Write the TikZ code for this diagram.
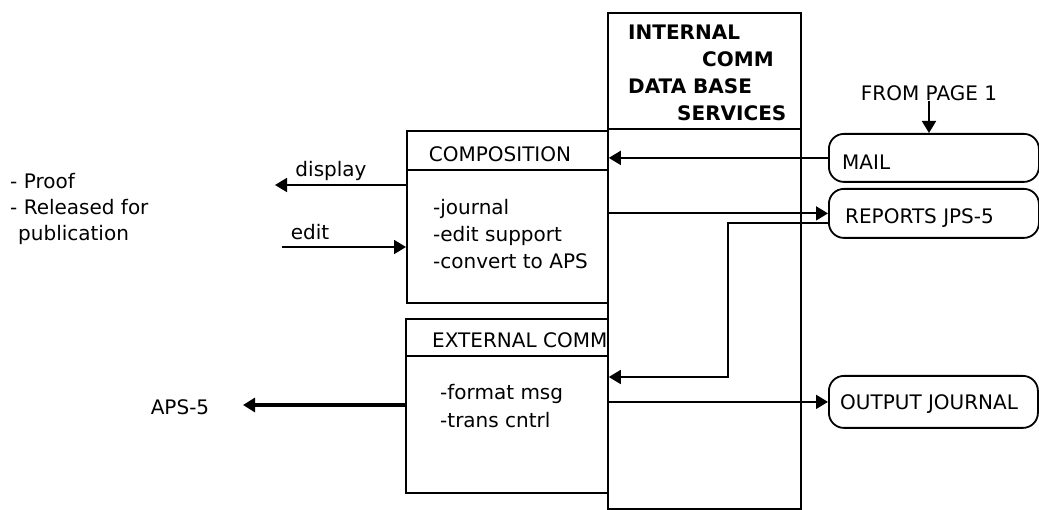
\documentclass[tikz,border=0pt]{standalone}
\usepackage{fontspec}
\setmainfont{DejaVu Sans}
\usetikzlibrary{arrows.meta,calc}
\begin{document}
\begin{tikzpicture}[x=1pt,y=-1pt,
  every node/.style={font=\fontsize{20}{27}\selectfont, inner sep=0pt},
  box/.style={draw, line width=1.8pt, anchor=north west},
  rbox/.style={draw, line width=1.8pt, anchor=north west, rounded corners=15pt},
  conn/.style={line width=1.8pt, -{Triangle[length=12pt,width=14pt]}},
  title/.style={font=\bfseries\fontsize{20}{27}\selectfont, align=left, anchor=west},
  lbl/.style={anchor=west, align=left}]
\useasboundingbox (0,0) rectangle (1039,510);
% boxes
\node[box, minimum width=193pt, minimum height=496pt] (db) at (607,12) {};
\node[box, minimum width=201pt, minimum height=172pt] (comp) at (406,130) {};
\node[box, minimum width=202pt, minimum height=174pt] (ext) at (405,318) {};
\node[rbox, minimum width=210pt, minimum height=48pt] (mail) at (828,133) {};
\node[rbox, minimum width=210pt, minimum height=49pt] (rep) at (828,188) {};
\node[rbox, minimum width=209pt, minimum height=52pt] (out) at (828,375) {};
% header dividers
\draw[line width=1.8pt] ($(db.north west)+(0,117)$) -- ($(db.north east)+(0,117)$);
\draw[line width=1.8pt] ($(comp.north west)+(0,40)$) -- ($(comp.north east)+(0,40)$);
\draw[line width=1.8pt] ($(ext.north west)+(0,38)$) -- ($(ext.north east)+(0,38)$);
% texts
\node[title] (dbt) at (628,72.5) {INTERNAL\\\hspace*{74pt}COMM\\DATA BASE\\\hspace*{49pt}SERVICES};
\node (compt) at (500,154) {COMPOSITION};
\node[lbl] (compl) at (433,234) {-journal\\-edit support\\-convert to APS};
\node[anchor=west] (extt) at (432,340) {EXTERNAL COMM};
\node[lbl, font=\fontsize{20}{28}\selectfont] (extl) at (440,406) {-format msg\\-trans cntrl};
\node[anchor=west] (mailt) at (842,162) {MAIL};
\node[anchor=west] (rept) at (845,218) {REPORTS JPS-5};
\node[anchor=west] (outt) at (840,404) {OUTPUT JOURNAL};
\node (from) at (929,93) {FROM PAGE 1};
\node[lbl, font=\fontsize{20}{26}\selectfont] (left) at (10,209) {- Proof\\- Released for\\\hspace*{8pt}publication};
\node (displ) at (331,171) {display};
\node (editl) at (310,232) {edit};
\node (apsl) at (180,407) {APS-5};
% connectors
\coordinate (disp) at (275,185);
\coordinate (ed) at (282,247);
\coordinate (aps) at (243,405);
\coordinate (bend) at (728,377);
\draw[conn] (mail.west) -- (mail.west -| comp.east);
\draw[conn] (rep.west -| comp.east) -- (rep.west);
\draw[conn] ($(rep.west)+(0,10)$) -| (bend) -- (bend -| ext.east);
\draw[conn] (out.west -| ext.east) -- (out.west);
\draw[conn] (from.south) -- (from.south |- mail.north);
\draw[conn] (disp -| comp.west) -- (disp);
\draw[conn] (ed) -- (ed -| comp.west);
\draw[conn, line width=3.5pt] (aps -| ext.west) -- (aps);
\end{tikzpicture}
\end{document}
